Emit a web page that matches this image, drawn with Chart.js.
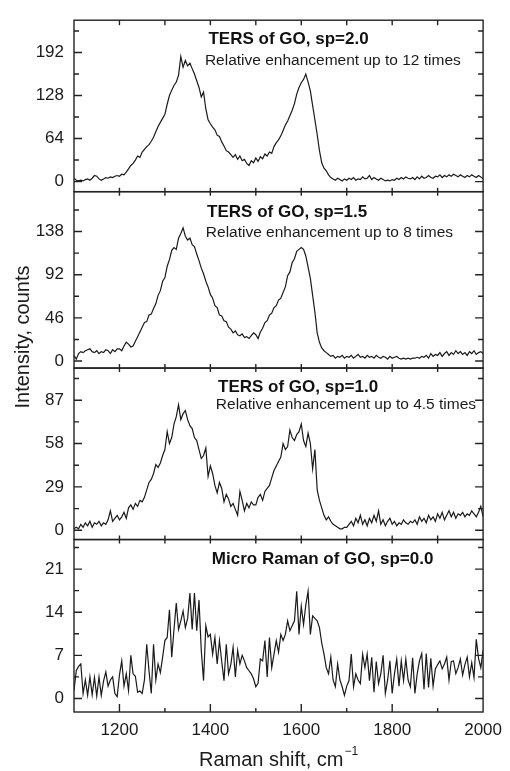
<!DOCTYPE html>
<html>
<head>
<meta charset="utf-8">
<title>TERS of GO</title>
<script src="https://cdn.jsdelivr.net/npm/chart.js@4/dist/chart.umd.min.js"></script>
<style>
    html, body { margin: 0; padding: 0; background: #fff; }
    #wrap { width: 510px; height: 771px; }
</style>
</head>
<body>
<div id="wrap"><canvas id="ramanChart" width="510" height="771"></canvas></div>
<script>
// Raman shift, cm-1 (shared by all four spectra)
const shift = [
    1100, 1105, 1110, 1115, 1120, 1125, 1130, 1135, 1140, 1145,
    1150, 1155, 1160, 1165, 1170, 1175, 1180, 1185, 1190, 1195,
    1200, 1205, 1210, 1215, 1220, 1225, 1230, 1235, 1240, 1245,
    1250, 1255, 1260, 1265, 1270, 1275, 1280, 1285, 1290, 1295,
    1300, 1305, 1310, 1315, 1320, 1325, 1330, 1335, 1340, 1345,
    1350, 1355, 1360, 1365, 1370, 1375, 1380, 1385, 1390, 1395,
    1400, 1405, 1410, 1415, 1420, 1425, 1430, 1435, 1440, 1445,
    1450, 1455, 1460, 1465, 1470, 1475, 1480, 1485, 1490, 1495,
    1500, 1505, 1510, 1515, 1520, 1525, 1530, 1535, 1540, 1545,
    1550, 1555, 1560, 1565, 1570, 1575, 1580, 1585, 1590, 1595,
    1600, 1605, 1610, 1615, 1620, 1625, 1630, 1635, 1640, 1645,
    1650, 1655, 1660, 1665, 1670, 1675, 1680, 1685, 1690, 1695,
    1700, 1705, 1710, 1715, 1720, 1725, 1730, 1735, 1740, 1745,
    1750, 1755, 1760, 1765, 1770, 1775, 1780, 1785, 1790, 1795,
    1800, 1805, 1810, 1815, 1820, 1825, 1830, 1835, 1840, 1845,
    1850, 1855, 1860, 1865, 1870, 1875, 1880, 1885, 1890, 1895,
    1900, 1905, 1910, 1915, 1920, 1925, 1930, 1935, 1940, 1945,
    1950, 1955, 1960, 1965, 1970, 1975, 1980, 1985, 1990, 1995,
    2000
];

// TERS of GO, sp=2.0
const tersSp20 = [
    5, 2, 1, 2, 1, 3, 4, 2, 5, 9,
    8, 4, 2, 4, 6, 5, 7, 6, 8, 9,
    8, 11, 10, 14, 19, 24, 27, 32, 38, 36,
    44, 48, 52, 55, 60, 66, 74, 82, 88, 94,
    100, 115, 128, 136, 143, 148, 158, 186, 170, 180,
    172, 176, 168, 160, 150, 140, 126, 133, 108, 92,
    86, 81, 77, 69, 67, 59, 53, 46, 44, 40,
    36, 40, 33, 38, 31, 33, 27, 24, 31, 28,
    35, 30, 37, 34, 41, 38, 44, 42, 52, 58,
    62, 68, 76, 84, 90, 98, 106, 116, 130, 140,
    147, 152, 160, 148, 135, 113, 92, 70, 46, 28,
    20, 16, 10, 6, 4, 2, 5, 3, 1, 4,
    2, 5, 3, 6, 2, 4, 3, 7, 4, 5,
    9, 3, 6, 4, 2, 5, 3, 1, 2, 1,
    3, 2, 5, 3, 6, 4, 7, 5, 4, 6,
    3, 7, 4, 8, 5, 6, 9, 6, 5, 8,
    7, 10, 6, 9, 7, 10, 8, 11, 9, 7,
    10, 8, 6, 9, 7, 10, 8, 6, 9, 7,
    4
];

// TERS of GO, sp=1.5
const tersSp15 = [
    6, 2, 8, 10, 9, 11, 12, 13, 10, 9,
    11, 8, 10, 9, 12, 11, 8, 12, 10, 13,
    13, 11, 16, 20, 18, 15, 16, 21, 26, 31,
    36, 41, 42, 49, 50, 56, 61, 70, 75, 85,
    89, 101, 108, 118, 121, 119, 131, 136, 142, 133,
    129, 131, 124, 122, 114, 107, 99, 93, 85, 79,
    71, 67, 59, 57, 49, 48, 43, 42, 36, 34,
    30, 32, 28, 27, 29, 25, 26, 24, 27, 30,
    28, 24, 31, 35, 41, 43, 49, 51, 57, 59,
    65, 67, 73, 79, 91, 95, 105, 109, 117, 119,
    121, 119, 112, 100, 88, 70, 52, 30, 20, 14,
    11, 9, 7, 5, 6, 3, 5, 4, 6, 3,
    5, 4, 6, 3, 5, 7, 4, 5, 3, 6,
    4, 5, 3, 6, 4, 3, 5, 4, 2, 5,
    3, 4, 5, 3, 2, 3, 2, 3, 2, 3,
    3, 4, 3, 5, 4, 6, 3, 8, 5, 7,
    6, 9, 5, 8, 10, 6, 9, 7, 11, 8,
    10, 7, 9, 6, 10, 8, 11, 7, 9, 10,
    8
];

// TERS of GO, sp=1.0
const tersSp10 = [
    1, 2, 1, 4, 2, 5, 3, 6, 2, 5,
    4, 6, 3, 5, 4, 7, 13, 6, 8, 10,
    7, 9, 12, 8, 15, 17, 14, 18, 16, 20,
    19, 22, 27, 32, 34, 38, 44, 42, 45, 50,
    54, 66, 58, 62, 71, 76, 84, 74, 78, 80,
    74, 70, 68, 62, 60, 54, 48, 50, 55, 36,
    43, 38, 30, 25, 32, 28, 19, 24, 21, 16,
    18, 14, 10, 26, 20, 13, 18, 15, 19, 17,
    17, 22, 24, 20, 26, 28, 30, 35, 40, 43,
    46, 49, 58, 54, 56, 67, 62, 60, 64, 66,
    71, 60, 56, 65, 58, 41, 54, 27, 20, 15,
    10, 7, 9, 6, 4, 3, 2, 1, 1, 2,
    2, 4, 6, 3, 8, 5, 10, 4, 7, 3,
    8, 5, 10, 6, 13, 4, 7, 3, 6, 8,
    4, 6, 3, 5, 4, 7, 5, 4, 6, 5,
    7, 4, 9, 6, 8, 5, 10, 7, 9, 6,
    11, 8, 12, 7, 10, 13, 9, 12, 8, 11,
    10, 12, 9, 11, 10, 13, 11, 9, 12, 16,
    9
];

// Micro Raman of GO, sp=0.0
const microSp00 = [
    1.3, 4.5, 5.2, 5.6, 0.8, 3, 0.5, 3.5, 0.6, 3.4,
    0.4, 3.5, 0.5, 2.8, 4.3, 2, 3, 3.5, 0.8, 0.3,
    3.8, 6.1, 2, 4, 1.3, 7, 4, 3.6, 1, 1.2,
    0.8, 3, 8.8, 4.5, 0.8, 8.8, 3, 5.6, 4.2, 6.7,
    9.4, 9.9, 14.4, 6.7, 11.2, 15.5, 11.2, 12.6, 14.2, 11.5,
    13, 17.1, 11.2, 17.1, 11, 16, 7.8, 2.9, 11.8, 10,
    10.4, 7.2, 9.9, 5.6, 9.4, 6, 2.9, 8.8, 4, 5.5,
    8.3, 3.5, 7.8, 5.6, 7, 6.1, 5, 4.5, 4, 3.2,
    1.9, 2.5, 6.4, 6.1, 9.4, 3.5, 9.9, 5, 7.2, 9.4,
    7.5, 10.4, 9.4, 10.4, 12.6, 11, 11.8, 12.6, 17.4, 10.4,
    15, 12, 15.2, 17.4, 10.4, 13.4, 13, 12.6, 11.5, 9,
    7.2, 5, 4, 6.7, 3, 1.9, 5.6, 3, 1.9, 0.5,
    2, 2.9, 7.2, 1.9, 4, 3, 2.4, 7.2, 5, 7.2,
    2.9, 6.7, 1, 6, 2.4, 4, 7, 0.8, 3, 6.1,
    0.8, 4, 6.4, 2, 6.1, 2.9, 6.4, 3, 1.9, 6.6,
    0.8, 4, 6.1, 7.3, 1.5, 7.3, 1.8, 6.5, 2, 4.8,
    5.5, 6.1, 4.8, 5.6, 6.7, 3, 6, 6.1, 4, 5,
    6.4, 3.8, 5.5, 6.7, 3.5, 5.8, 3.4, 9.6, 6.5, 5,
    7.8
];

// tick labels
const ticksSp20 = [0, 64, 128, 192];
const ticksSp15 = [0, 46, 92, 138];
const ticksSp10 = [0, 29, 58, 87];
const ticksSp00 = [0, 7, 14, 21];
const ramanTicks = [1200, 1400, 1600, 1800, 2000];

const FONT = '"Liberation Sans", Arial, sans-serif';
const INK = '#1b1b1b';

// panel settings (top to bottom)
const panels = [
    { axis: 'yA', data: tersSp20, ticks: ticksSp20, min: -15, max: 240, weight: 174,
      title: 'TERS of GO, sp=2.0', titleAt: [1572, 211],
      note: 'Relative enhancement up to 12 times', noteAt: [1388, 179] },
    { axis: 'yB', data: tersSp15, ticks: ticksSp15, min: -7.5, max: 180.5, weight: 179,
      title: 'TERS of GO, sp=1.5', titleAt: [1569, 158],
      note: 'Relative enhancement up to 8 times', noteAt: [1390, 137] },
    { axis: 'yC', data: tersSp10, ticks: ticksSp10, min: -6.2, max: 108.5, weight: 174,
      title: 'TERS of GO, sp=1.0', titleAt: [1593, 95.6],
      note: 'Relative enhancement up to 4.5 times', noteAt: [1412, 83.8] },
    { axis: 'yD', data: microSp00, ticks: ticksSp00, min: -2.2, max: 25.8, weight: 175,
      title: 'Micro Raman of GO, sp=0.0', titleAt: [1647, 22.6] }
];

function panelAxis(p) {
    return {
        type: 'linear',
        position: 'left',
        stack: 'panels',
        stackWeight: p.weight,
        min: p.min,
        max: p.max,
        afterBuildTicks: s => { s.ticks = p.ticks.map(v => ({ value: v })); },
        afterFit: s => { s.width = 64; },
        grid: { display: false, drawTicks: false },
        border: { display: false },
        ticks: { padding: 10, color: INK, font: { size: 17, family: FONT }, callback: v => String(v) }
    };
}

// frames, inward ticks and panel texts
const framePlugin = {
    id: 'frame',
    afterDatasetsDraw(chart) {
        const { ctx, chartArea: a, scales } = chart;
        const x = scales.x;
        const xMajor = ramanTicks.filter(v => v < x.max);
        const xMinor = ramanTicks.map(v => v - 100).filter(v => v > x.min);
        ctx.save();
        ctx.strokeStyle = '#222';
        ctx.lineWidth = 1.4;
        panels.forEach((p, i) => {
            const y = scales[p.axis];
            const last = i === panels.length - 1;
            ctx.strokeRect(a.left, y.top, a.right - a.left, y.bottom - y.top);

            ctx.beginPath();
            // y ticks, both sides
            const step = p.ticks[1] - p.ticks[0];
            const minors = [];
            p.ticks.forEach(v => { minors.push(v - step / 2, v + step / 2); });
            const tick = (v, len) => {
                const py = y.getPixelForValue(v);
                ctx.moveTo(a.left, py); ctx.lineTo(a.left + len, py);
                ctx.moveTo(a.right, py); ctx.lineTo(a.right - len, py);
            };
            p.ticks.forEach(v => tick(v, 8));
            minors.filter((v, k, arr) => v > y.min && v < y.max && arr.indexOf(v) === k)
                .forEach(v => tick(v, 5));
            // x ticks, top and bottom of each panel
            xMajor.concat(xMinor).forEach(v => {
                const px = x.getPixelForValue(v);
                const isMajor = xMajor.includes(v);
                const topLen = i === 0 ? 5 : 4;
                const botLen = last ? (isMajor ? 8 : 4) : 4;
                ctx.moveTo(px, y.top); ctx.lineTo(px, y.top + topLen);
                ctx.moveTo(px, y.bottom); ctx.lineTo(px, y.bottom - botLen);
            });
            ctx.stroke();

            // panel texts
            ctx.fillStyle = '#111';
            ctx.textBaseline = 'middle';
            ctx.textAlign = 'center';
            ctx.font = 'bold 17px ' + FONT;
            ctx.fillText(p.title, x.getPixelForValue(p.titleAt[0]), y.getPixelForValue(p.titleAt[1]));
            if (p.note) {
                ctx.textAlign = 'left';
                ctx.font = '15.5px ' + FONT;
                ctx.fillStyle = INK;
                ctx.fillText(p.note, x.getPixelForValue(p.noteAt[0]), y.getPixelForValue(p.noteAt[1]));
            }
        });

        // axis titles
        ctx.fillStyle = INK;
        ctx.textBaseline = 'middle';
        ctx.font = '20px ' + FONT;
        const main = 'Raman shift, cm';
        const sup = '\u22121';
        const wMain = ctx.measureText(main).width;
        ctx.font = '12px ' + FONT;
        const wSup = ctx.measureText(sup).width;
        const cx = (a.left + a.right) / 2;
        const startX = cx - (wMain + wSup + 1) / 2;
        ctx.textAlign = 'left';
        ctx.font = '20px ' + FONT;
        ctx.fillText(main, startX, 760);
        ctx.font = '12px ' + FONT;
        ctx.fillText(sup, startX + wMain + 1, 752);

        ctx.save();
        ctx.translate(23, 337);
        ctx.rotate(-Math.PI / 2);
        ctx.textAlign = 'center';
        ctx.font = '20px ' + FONT;
        ctx.fillText('Intensity, counts', 0, 0);
        ctx.restore();
        ctx.restore();
    }
};

const scales = {
    x: {
        type: 'linear',
        position: 'bottom',
        min: 1100,
        max: 2000,
        afterBuildTicks: s => { s.ticks = ramanTicks.map(v => ({ value: v })); },
        afterFit: s => { s.height = 59; },
        grid: { display: false, drawTicks: false },
        border: { display: false },
        ticks: { padding: 8, maxRotation: 0, autoSkip: false, color: INK,
                 font: { size: 17, family: FONT }, callback: v => String(v) }
    }
};
// left stacks are placed in reverse order, so list bottom panel first
panels.slice().reverse().forEach(p => { scales[p.axis] = panelAxis(p); });

new Chart(document.getElementById('ramanChart').getContext('2d'), {
    type: 'line',
    data: {
        datasets: panels.map(p => ({
            label: p.title,
            data: shift.map((s, i) => ({ x: s, y: p.data[i] })),
            yAxisID: p.axis,
            borderColor: '#1a1a1a',
            borderWidth: 1.2,
            pointRadius: 0,
            tension: 0,
            fill: false
        }))
    },
    options: {
        responsive: false,
        animation: false,
        devicePixelRatio: 1,
        layout: { padding: { left: 10, right: 20, top: 10, bottom: 0 } },
        plugins: { legend: { display: false }, tooltip: { enabled: false } },
        scales: scales
    },
    plugins: [framePlugin]
});
</script>
</body>
</html>
